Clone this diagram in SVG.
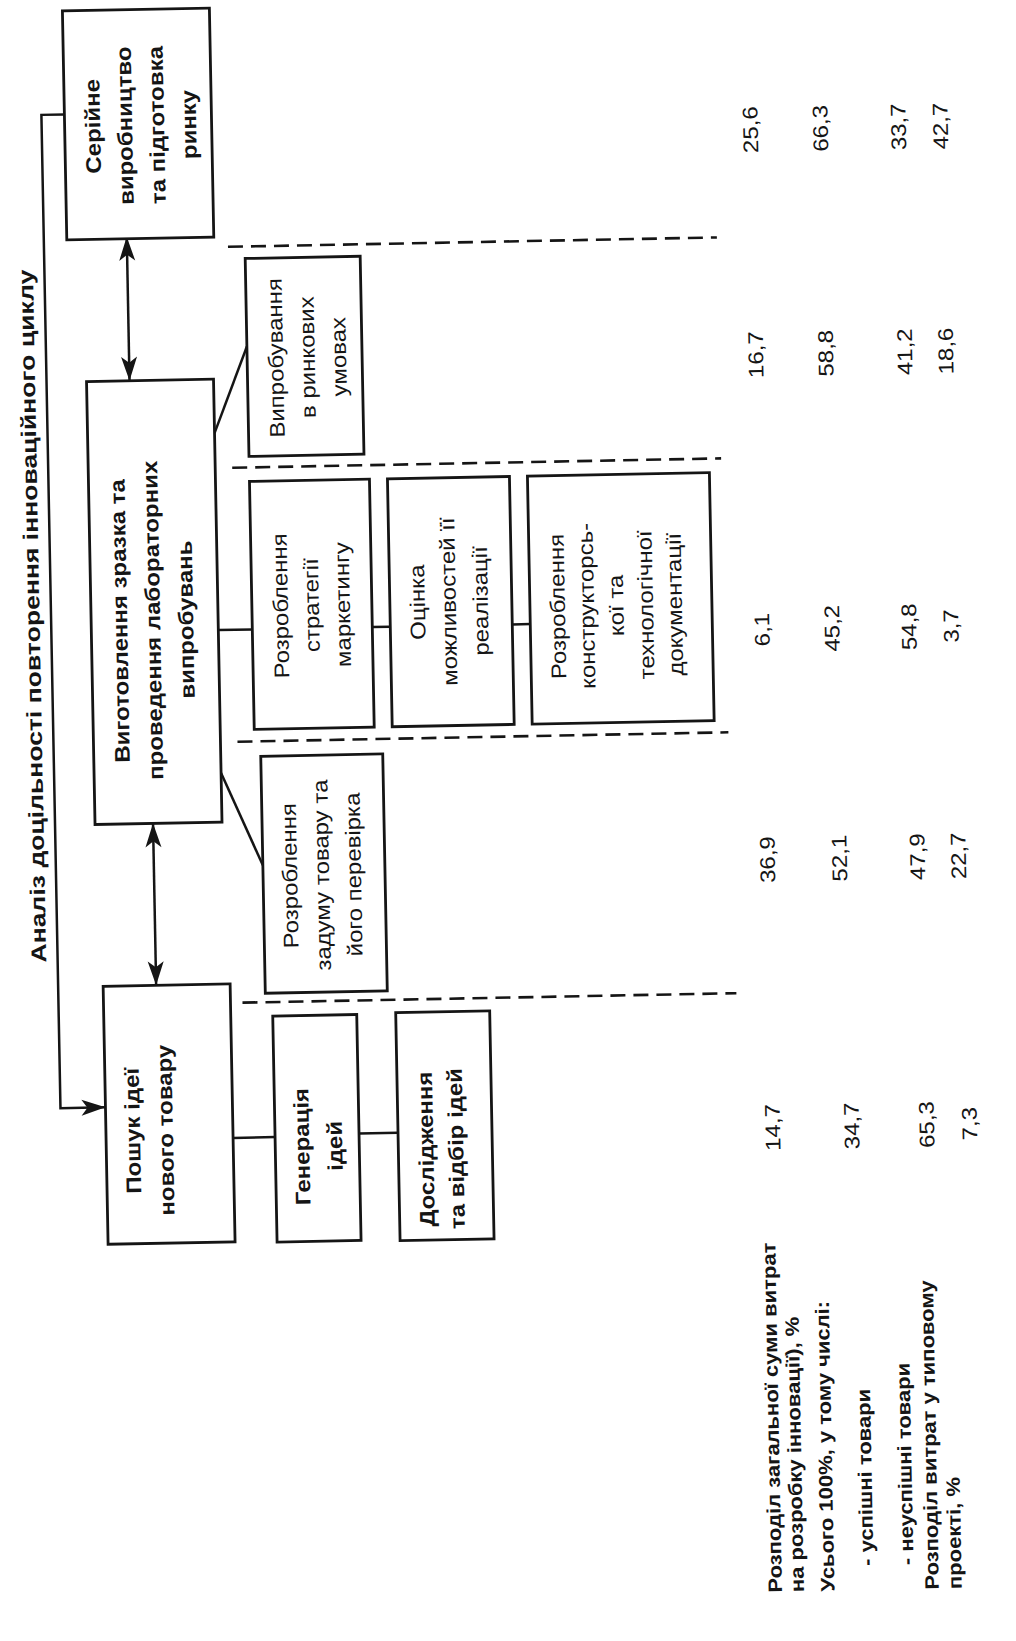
<svg xmlns="http://www.w3.org/2000/svg" width="1016" height="1641" viewBox="0 0 1016 1641">
<defs>
<style>
  .box{fill:#fff;stroke:#151515;stroke-width:2.8}
  .ln{fill:none;stroke:#151515;stroke-width:2.5}
  .dash{fill:none;stroke:#151515;stroke-width:2.6;stroke-dasharray:15 8}
  text{font-family:"Liberation Sans",Arial,sans-serif;fill:#151515}
  .t{font-size:24px;text-anchor:middle}
  .b{font-weight:bold}
  .n{font-size:24px;text-anchor:middle}
  .lab{font-size:22px;font-weight:bold}
</style>
<marker id="ah" viewBox="-1 -9 26 18" refX="24" refY="0" markerWidth="26" markerHeight="18" markerUnits="userSpaceOnUse" orient="auto-start-reverse">
  <path d="M0,-8 L24,0 L0,8 L6,0 Z" fill="#151515"/>
</marker>
</defs>
<rect width="1016" height="1641" fill="#fff"/>
<!-- whole sheet is printed turned a quarter; text reads bottom-to-top -->
<g transform="rotate(-1.1 380 820)">

  <!-- cycle title -->
  <text class="t b" transform="translate(43.5 609.5) rotate(-90) scale(1 0.88)" textLength="693" lengthAdjust="spacingAndGlyphs">Аналіз доцільності повторення інноваційного циклу</text>

  <!-- connectors -->
  <g id="connectors">
    <path class="ln" d="M78,108.5 H55 V1102 H100" marker-end="url(#ah)"/>
    <path class="ln" d="M138,232 V376" marker-start="url(#ah)" marker-end="url(#ah)"/>
    <path class="ln" d="M153,819 V981" marker-start="url(#ah)" marker-end="url(#ah)"/>
    <path class="ln" d="M222,430 L256,344"/>
    <path class="ln" d="M222,627 H256"/>
    <path class="ln" d="M376,627 H394"/>
    <path class="ln" d="M516,627 H534"/>
    <path class="ln" d="M222,770 L262,863"/>
    <path class="ln" d="M227,1135 H269"/>
    <path class="ln" d="M353,1133 H392"/>
  </g>

  <!-- stage separators -->
  <g id="separators">
    <path class="dash" d="M239,244 H728"/>
    <path class="dash" d="M239,465 H728"/>
    <path class="dash" d="M239,739 H730"/>
    <path class="dash" d="M239,1000 H733"/>
  </g>

  <g id="serial">
    <rect class="box" x="78" y="5" width="147" height="229"/>
    <text class="t b" transform="translate(113.5 121) rotate(-90) scale(1 0.88)">Серійне</text>
    <text class="t b" transform="translate(145.5 121) rotate(-90) scale(1 0.88)">виробництво</text>
    <text class="t b" transform="translate(177.5 121) rotate(-90) scale(1 0.88)">та підготовка</text>
    <text class="t b" transform="translate(209.5 121) rotate(-90) scale(1 0.88)">ринку</text>
  </g>

  <g id="prototype">
    <rect class="box" x="95" y="376" width="127" height="443"/>
    <text class="t b" transform="translate(131 616) rotate(-90) scale(1 0.88)">Виготовлення зразка та</text>
    <text class="t b" transform="translate(164 616) rotate(-90) scale(1 0.88)">проведення лабораторних</text>
    <text class="t b" transform="translate(197 616) rotate(-90) scale(1 0.88)">випробувань</text>
  </g>

  <g id="search">
    <rect class="box" x="100" y="981" width="127" height="258"/>
    <text class="t b" transform="translate(134 1126) rotate(-90) scale(1 0.88)">Пошук ідеї</text>
    <text class="t b" transform="translate(167 1126) rotate(-90) scale(1 0.88)">нового товару</text>
  </g>

  <g id="market-test">
    <rect class="box" x="256" y="256" width="115" height="198"/>
    <text class="t" transform="translate(292 356) rotate(-90) scale(1 0.88)">Випробування</text>
    <text class="t" transform="translate(323.5 356) rotate(-90) scale(1 0.88)">в ринкових</text>
    <text class="t" transform="translate(355 356) rotate(-90) scale(1 0.88)">умовах</text>
  </g>

  <g id="strategy">
    <rect class="box" x="256" y="479" width="120" height="248"/>
    <text class="t" transform="translate(292 604) rotate(-90) scale(1 0.88)">Розроблення</text>
    <text class="t" transform="translate(323 604) rotate(-90) scale(1 0.88)">стратегії</text>
    <text class="t" transform="translate(354 604) rotate(-90) scale(1 0.88)">маркетингу</text>
  </g>

  <g id="feasibility">
    <rect class="box" x="394" y="479" width="122" height="248"/>
    <text class="t" transform="translate(429 603) rotate(-90) scale(1 0.88)">Оцінка</text>
    <text class="t" transform="translate(460 603) rotate(-90) scale(1 0.88)">можливостей її</text>
    <text class="t" transform="translate(492 603) rotate(-90) scale(1 0.88)">реалізації</text>
  </g>

  <g id="documentation">
    <rect class="box" x="534" y="479" width="182" height="248"/>
    <text class="t" transform="translate(569 610) rotate(-90) scale(1 0.88)">Розроблення</text>
    <text class="t" transform="translate(598 610) rotate(-90) scale(1 0.88)">конструкторсь-</text>
    <text class="t" transform="translate(627.5 610) rotate(-90) scale(1 0.88)">кої та</text>
    <text class="t" transform="translate(657 610) rotate(-90) scale(1 0.88)">технологічної</text>
    <text class="t" transform="translate(686 610) rotate(-90) scale(1 0.88)">документації</text>
  </g>

  <g id="concept">
    <rect class="box" x="262" y="754" width="122" height="237"/>
    <text class="t" transform="translate(296 874) rotate(-90) scale(1 0.88)">Розроблення</text>
    <text class="t" transform="translate(328 874) rotate(-90) scale(1 0.88)">задуму товару та</text>
    <text class="t" transform="translate(360 874) rotate(-90) scale(1 0.88)">його перевірка</text>
  </g>

  <g id="generation">
    <rect class="box" x="269" y="1014" width="84" height="226"/>
    <text class="t b" transform="translate(303 1145) rotate(-90) scale(1 0.88)">Генерація</text>
    <text class="t b" transform="translate(336 1145) rotate(-90) scale(1 0.88)">ідей</text>
  </g>

  <g id="screening">
    <rect class="box" x="392" y="1013" width="94" height="228"/>
    <text class="t b" transform="translate(427 1150) rotate(-90) scale(1 0.88)">Дослідження</text>
    <text class="t b" transform="translate(457 1150) rotate(-90) scale(1 0.88)">та відбір ідей</text>
  </g>

  <!-- cost table: row captions -->
  <g id="captions">
    <text class="lab" transform="translate(767 1600) rotate(-90) scale(1 0.88)">Розподіл загальної суми витрат</text>
    <text class="lab" transform="translate(789 1600) rotate(-90) scale(1 0.88)">на розробку інновації), %</text>
    <text class="lab" transform="translate(819.5 1600) rotate(-90) scale(1 0.88)">Усього 100%, у тому числі:</text>
    <text class="lab" transform="translate(859 1575) rotate(-90) scale(1 0.88)">- успішні товари</text>
    <text class="lab" transform="translate(899 1575) rotate(-90) scale(1 0.88)">- неуспішні товари</text>
    <text class="lab" transform="translate(924 1600) rotate(-90) scale(1 0.88)">Розподіл витрат у типовому</text>
    <text class="lab" transform="translate(947 1600) rotate(-90) scale(1 0.88)">проекті, %</text>
  </g>

  <!-- cost table: values per stage -->
  <g id="values">
    <text class="n" transform="translate(771 137) rotate(-90) scale(1 0.88)">25,6</text>
    <text class="n" transform="translate(841 137) rotate(-90) scale(1 0.88)">66,3</text>
    <text class="n" transform="translate(919 137) rotate(-90) scale(1 0.88)">33,7</text>
    <text class="n" transform="translate(961 137) rotate(-90) scale(1 0.88)">42,7</text>

    <text class="n" transform="translate(772 362) rotate(-90) scale(1 0.88)">16,7</text>
    <text class="n" transform="translate(842 362) rotate(-90) scale(1 0.88)">58,8</text>
    <text class="n" transform="translate(921 362) rotate(-90) scale(1 0.88)">41,2</text>
    <text class="n" transform="translate(962 362) rotate(-90) scale(1 0.88)">18,6</text>

    <text class="n" transform="translate(773 637) rotate(-90) scale(1 0.88)">6,1</text>
    <text class="n" transform="translate(843 637) rotate(-90) scale(1 0.88)">45,2</text>
    <text class="n" transform="translate(920 637) rotate(-90) scale(1 0.88)">54,8</text>
    <text class="n" transform="translate(962 637) rotate(-90) scale(1 0.88)">3,7</text>

    <text class="n" transform="translate(774 867) rotate(-90) scale(1 0.88)">36,9</text>
    <text class="n" transform="translate(846 867) rotate(-90) scale(1 0.88)">52,1</text>
    <text class="n" transform="translate(924 867) rotate(-90) scale(1 0.88)">47,9</text>
    <text class="n" transform="translate(965 867) rotate(-90) scale(1 0.88)">22,7</text>

    <text class="n" transform="translate(774 1135) rotate(-90) scale(1 0.88)">14,7</text>
    <text class="n" transform="translate(853 1135) rotate(-90) scale(1 0.88)">34,7</text>
    <text class="n" transform="translate(928 1135) rotate(-90) scale(1 0.88)">65,3</text>
    <text class="n" transform="translate(971 1135) rotate(-90) scale(1 0.88)">7,3</text>
  </g>
</g>
</svg>
